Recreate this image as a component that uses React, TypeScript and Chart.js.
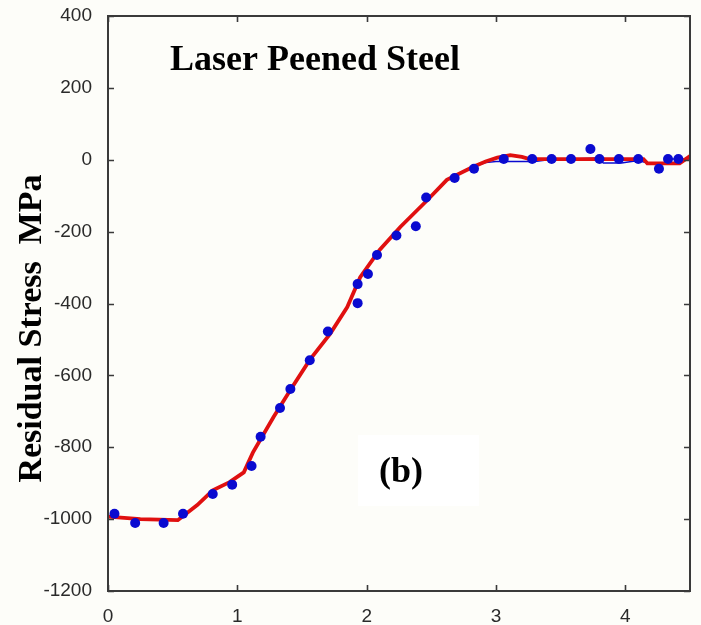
import React, { useEffect, useRef } from 'react';
import { Chart, registerables } from 'chart.js';

Chart.register(...registerables);

// ---- data ----
const measuredDepth = [0.05, 0.21, 0.43, 0.58, 0.81, 0.96, 1.11, 1.18, 1.33, 1.41, 1.56, 1.70, 1.93, 1.93, 2.01, 2.08, 2.23, 2.38, 2.46, 2.68, 2.83, 3.06, 3.28, 3.43, 3.58, 3.73, 3.80, 3.95, 4.10, 4.26, 4.33, 4.41];
const measuredStress = [-985, -1011, -1011, -985, -930, -904, -852, -771, -691, -638, -558, -478, -346, -399, -318, -265, -211, -185, -105, -51, -25, 2, 2, 2, 2, 30, 2, 2, 2, -25, 2, 2];

const fitDepth = [0, 0.25, 0.54, 0.69, 0.81, 0.94, 1.05, 1.12, 1.28, 1.41, 1.56, 1.72, 1.85, 1.95, 2.10, 2.26, 2.47, 2.62, 2.82, 2.92, 3.01, 3.11, 3.20, 3.26, 4.14, 4.17, 4.42, 4.5];
const fitStress = [-993, -1000, -1003, -961, -920, -897, -870, -815, -716, -641, -557, -483, -410, -327, -251, -187, -112, -56, -20, -5, 6, 13, 8, 2, 2, -10, -10, 10];

const traceDepth = [2.82, 2.92, 3.0, 3.3, 3.45, 3.6, 3.78, 3.83, 3.97, 4.1, 4.2, 4.3, 4.35, 4.5];
const traceStress = [-20, -8, -5, -5, 2, 2, 5, -9, -9, -2, -12, -12, 2, 2];

const xTickValues = [0, 1, 2, 3, 4];
const yMin = -1200;
const yMax = 400;
const yStep = 200;
const xMin = 0;
const xMax = 4.5;

const chartTitle = 'Laser Peened Steel';
const panelLabel = '(b)';
const yAxisTitle = 'Residual Stress  MPa';

// ---- styles ----
const BG = '#fdfdf9';
const AXIS = '#3a3a3a';
const TICK_TEXT = '#2a2a2a';
const RED = '#e01010';
const BLUE = '#0a0ad0';
const SERIF = "'Liberation Serif', 'Times New Roman', serif";
const SANS = "'Liberation Sans', Arial, sans-serif";

const decorPlugin = {
  id: 'decor',
  beforeDraw(chart: any) {
    const { ctx, width, height } = chart;
    ctx.save();
    ctx.fillStyle = BG;
    ctx.fillRect(0, 0, width, height);
    ctx.restore();
  },
  beforeDatasetsDraw(chart: any) {
    const { ctx, chartArea } = chart;
    const { left, top, width, height } = chartArea;
    ctx.save();
    // white panel behind the "(b)" label
    ctx.fillStyle = '#ffffff';
    const bx = left + width * 0.4296;
    const by = top + height * 0.7287;
    ctx.fillRect(bx, by, width * 0.2079, height * 0.1233);
    ctx.restore();
  },
  afterDatasetsDraw(chart: any) {
    const { ctx, chartArea, scales } = chart;
    const { left, right, top, bottom, width, height } = chartArea;
    const xs = scales.x;
    const ys = scales.y;
    ctx.save();
    // frame
    ctx.strokeStyle = AXIS;
    ctx.lineWidth = 2;
    ctx.strokeRect(left, top, right - left, bottom - top);
    // inward ticks
    ctx.lineWidth = 1.6;
    ctx.beginPath();
    ys.ticks.forEach((t: any) => {
      const py = Math.round(ys.getPixelForValue(t.value)) + 0.5;
      ctx.moveTo(left, py);
      ctx.lineTo(left + 6, py);
      ctx.moveTo(right, py);
      ctx.lineTo(right - 6, py);
    });
    xs.ticks.forEach((t: any) => {
      const px = Math.round(xs.getPixelForValue(t.value)) + 0.5;
      ctx.moveTo(px, bottom);
      ctx.lineTo(px, bottom - 6);
      ctx.moveTo(px, top);
      ctx.lineTo(px, top + 6);
    });
    ctx.stroke();

    // title inside plot
    ctx.fillStyle = '#000000';
    ctx.font = `bold 36px ${SERIF}`;
    ctx.textAlign = 'left';
    ctx.textBaseline = 'alphabetic';
    ctx.fillText(chartTitle, left + width * 0.1065, top + height * 0.0939);

    // panel label
    ctx.fillText(panelLabel, left + width * 0.4656, top + height * 0.8104);

    // y axis title (rotated)
    ctx.save();
    ctx.font = `bold 34px ${SERIF}`;
    ctx.translate(41, top + height * 0.5435);
    ctx.rotate(-Math.PI / 2);
    ctx.textAlign = 'center';
    ctx.textBaseline = 'alphabetic';
    ctx.fillText(yAxisTitle, 0, 0);
    ctx.restore();

    ctx.restore();
  },
};

export default function App() {
  const canvasRef = useRef<HTMLCanvasElement | null>(null);

  useEffect(() => {
    const canvas = canvasRef.current;
    if (!canvas) return;
    const chart = new Chart(canvas, {
      type: 'scatter',
      data: {
        datasets: [
          {
            label: 'Measured',
            data: measuredDepth.map((d, i) => ({ x: d, y: measuredStress[i] })),
            backgroundColor: BLUE,
            borderColor: BLUE,
            pointRadius: 5,
            pointBorderWidth: 0,
            showLine: false,
          },
          {
            label: 'Fit',
            data: fitDepth.map((d, i) => ({ x: d, y: fitStress[i] })),
            borderColor: RED,
            backgroundColor: RED,
            borderWidth: 3.8,
            pointRadius: 0,
            showLine: true,
          },
          {
            label: 'Trace',
            data: traceDepth.map((d, i) => ({ x: d, y: traceStress[i] })),
            borderColor: BLUE,
            backgroundColor: BLUE,
            borderWidth: 1.5,
            pointRadius: 0,
            showLine: true,
          },
        ],
      },
      options: {
        responsive: false,
        animation: false,
        events: [],
        layout: { padding: { top: 16, right: 11, left: 0, bottom: 0 } },
        plugins: {
          legend: { display: false },
          tooltip: { enabled: false },
          title: { display: false },
        },
        scales: {
          x: {
            type: 'linear',
            min: xMin,
            max: xMax,
            grid: {
              display: true,
              drawOnChartArea: false,
              drawTicks: true,
              tickLength: 14,
              tickColor: 'rgba(0,0,0,0)',
            },
            border: { display: false },
            afterBuildTicks: (scale: any) => {
              scale.ticks = xTickValues.map((v) => ({ value: v }));
            },
            afterFit: (scale: any) => {
              scale.height = 34;
            },
            ticks: {
              padding: 0,
              color: TICK_TEXT,
              font: { family: SANS, size: 19 },
              maxRotation: 0,
              callback: (v: any) => String(v),
            },
          },
          y: {
            type: 'linear',
            min: yMin,
            max: yMax,
            grid: {
              display: true,
              drawOnChartArea: false,
              drawTicks: true,
              tickLength: 16,
              tickColor: 'rgba(0,0,0,0)',
            },
            border: { display: false },
            afterFit: (scale: any) => {
              scale.width = 108;
            },
            ticks: {
              stepSize: yStep,
              padding: 0,
              color: TICK_TEXT,
              font: { family: SANS, size: 19 },
              callback: (v: any) => String(v),
            },
          },
        },
      },
      plugins: [decorPlugin],
    });
    return () => chart.destroy();
  }, []);

  return (
    <div style={{ position: 'absolute', left: 0, top: 0, width: 701, height: 625, background: BG }}>
      <canvas ref={canvasRef} width={701} height={625} style={{ display: 'block' }} />
    </div>
  );
}
